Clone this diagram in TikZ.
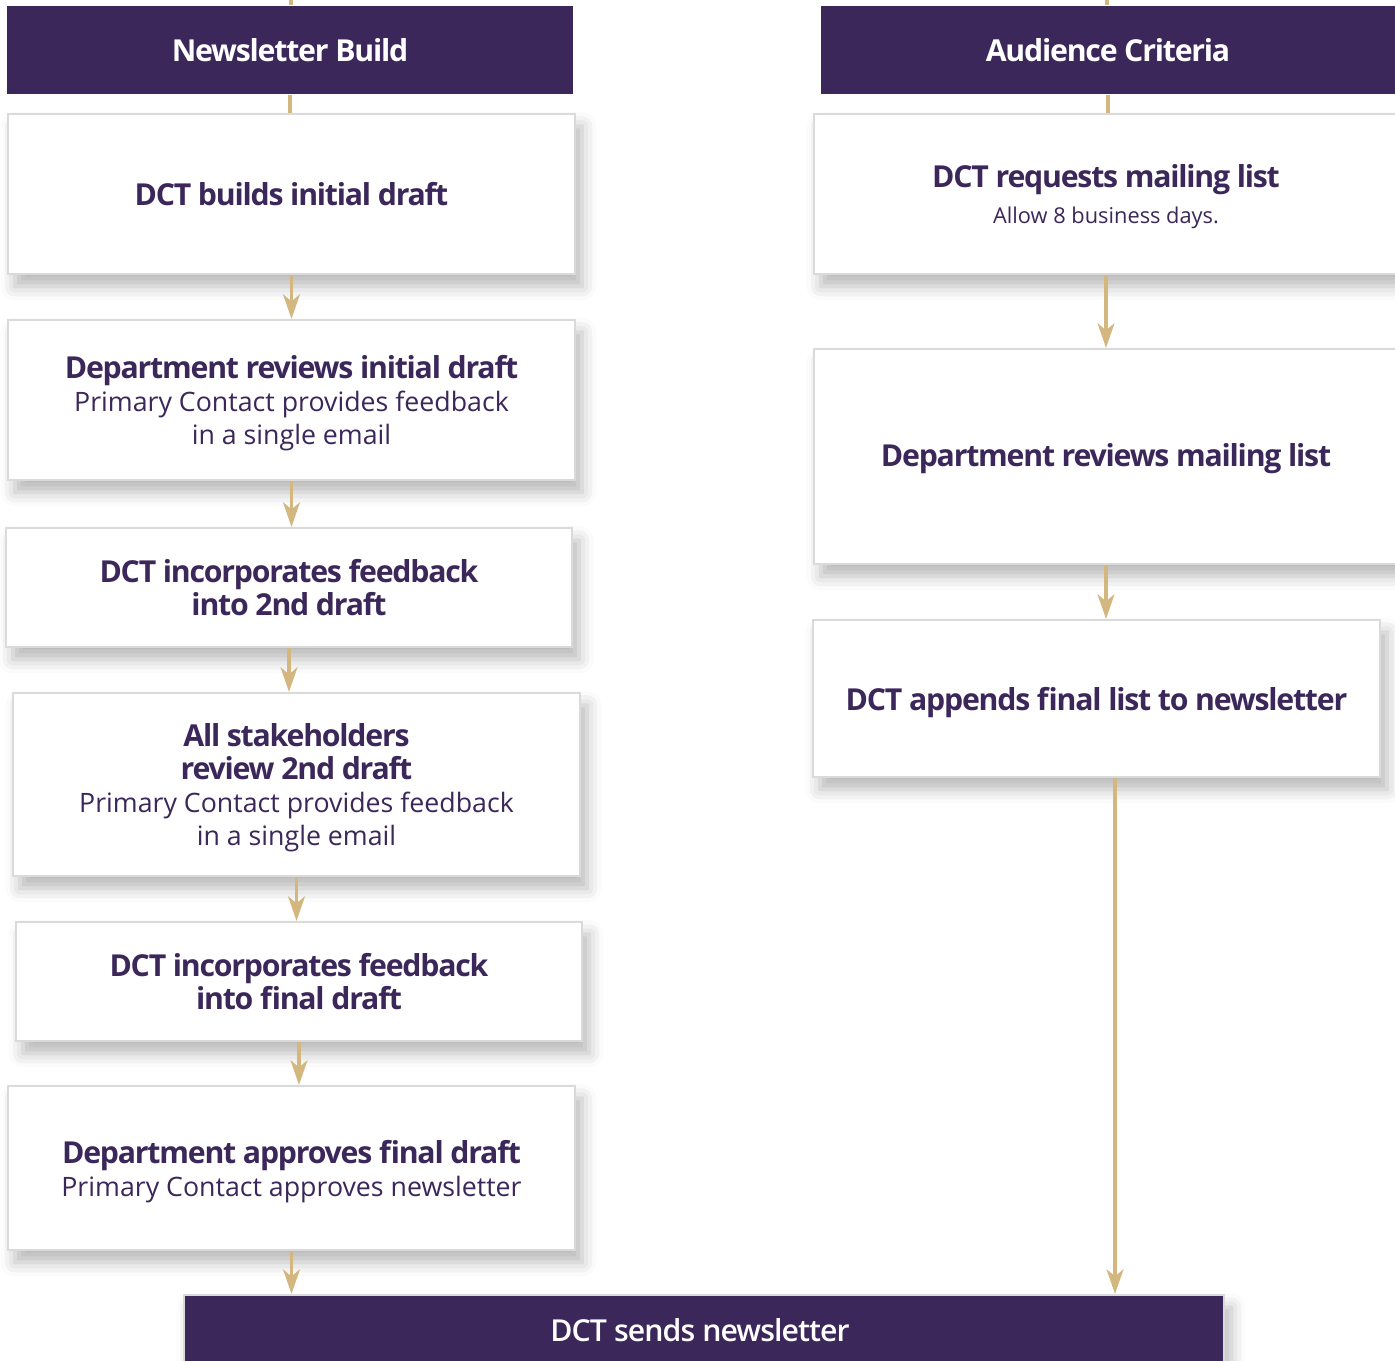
\documentclass[tikz,border=0pt]{standalone}
\usepackage{fontspec}
\setmainfont{Open Sans}[BoldFeatures={LetterSpace=-4}]
\IfFontExistsTF{Open Sans SemiBold}{\newfontfamily\semifont{Open Sans SemiBold}[LetterSpace=-3]}
  {\IfFontExistsTF{Open Sans Semibold}{\newfontfamily\semifont{Open Sans Semibold}[LetterSpace=-3]}
    {\newcommand\semifont{\bfseries}}}
\usetikzlibrary{arrows.meta,shadows.blur}

\definecolor{plum}{HTML}{3B2759}
\definecolor{gold}{HTML}{D3B77E}
\definecolor{boxgrey}{HTML}{DADADA}

\newcommand\bigline[1]{{\fontsize{8.6}{9.4}\selectfont\bfseries #1}}

\tikzset{
  soft shadow/.style={blur shadow={shadow xshift=2pt, shadow yshift=-3.5pt, shadow blur radius=4pt, shadow opacity=28}},
  stepbox/.style={draw=boxgrey, line width=0.6pt, fill=white, text=plum, align=center, inner sep=0pt,
    font=\fontsize{7.6}{9.4}\selectfont, soft shadow},
  headbox/.style={fill=plum, text=white, align=center, inner sep=0pt},
  link/.style={draw=gold, line width=0.9pt},
  flow/.style={link, -{Stealth[length=7pt, width=4.8pt, inset=2pt]}},
}

\begin{document}
\begin{tikzpicture}[x=0.01cm, y=-0.01cm]
    \useasboundingbox (0,0) rectangle (1395,1360);

    % left column: newsletter build
    \node[headbox, minimum width=5.66cm, minimum height=0.88cm, text depth=-1.7pt] (build) at (290,50) {\bigline{Newsletter Build}};
    \node[stepbox, minimum width=5.67cm, minimum height=1.60cm, text depth=-0.5pt] (initial) at (291.5,194) {\bigline{DCT builds initial draft}};
    \node[stepbox, minimum width=5.67cm, minimum height=1.60cm, text depth=-3.7pt] (review1) at (291.5,400)
        {\bigline{Department reviews initial draft}\\Primary Contact provides feedback\\in a single email};
    \node[stepbox, minimum width=5.66cm, minimum height=1.19cm, text depth=-1.3pt] (second) at (289,587.5)
        {\bigline{DCT incorporates feedback}\\\bigline{into 2nd draft}};
    \node[stepbox, minimum width=5.67cm, minimum height=1.83cm, text depth=-3.4pt] (review2) at (296.5,784.5)
        {\bigline{All stakeholders}\\\bigline{review 2nd draft}\\Primary Contact provides feedback\\in a single email};
    \node[stepbox, minimum width=5.66cm, minimum height=1.19cm, text depth=-1.3pt] (final) at (299,981.5)
        {\bigline{DCT incorporates feedback}\\\bigline{into final draft}};
    \node[stepbox, minimum width=5.67cm, minimum height=1.64cm, text depth=-3.4pt] (approve) at (291.5,1168)
        {\bigline{Department approves final draft}\\Primary Contact approves newsletter};

    % right column: audience criteria
    \node[headbox, minimum width=5.74cm, minimum height=0.88cm, text depth=-1.7pt] (criteria) at (1108,50) {\bigline{Audience Criteria}};
    \node[stepbox, minimum width=5.84cm, minimum height=1.60cm, text depth=-2.4pt] (request) at (1106,194)
        {\bigline{DCT requests mailing list}\\[0.9pt]{\fontsize{6.2}{8}\selectfont Allow 8 business days.}};
    \node[stepbox, minimum width=5.84cm, minimum height=2.15cm, text depth=1pt] (check) at (1106,456.5)
        {\bigline{Department reviews mailing list}};
    \node[stepbox, minimum width=5.67cm, minimum height=1.57cm, text depth=-0.7pt] (append) at (1096.5,698.5)
        {\bigline{DCT appends final list to newsletter}};

    % bottom bar
    \node[headbox, draw=boxgrey, line width=0.6pt, minimum width=10.40cm, minimum height=0.70cm, soft shadow]
        (send) at (704,1330) {{\fontsize{8.6}{9.4}\semifont DCT sends newsletter}\hspace*{0.08cm}};

    % connectors
    \coordinate (topL) at (291,0);
    \coordinate (topR) at (1107,0);
    \draw[link] (topL) -- (topL |- build.north);
    \draw[link] (topR) -- (topR |- criteria.north);
    \draw[link] (build.south) -- (build.south |- initial.north);
    \draw[link] (criteria.south) -- (criteria.south |- request.north);

    \draw[flow] (initial.south) -- (initial.south |- review1.north);
    \draw[flow] (review1.south) -- (review1.south |- second.north);
    \draw[flow] (second.south) -- (second.south |- review2.north);
    \draw[flow] (review2.south) -- (review2.south |- final.north);
    \draw[flow] (final.south) -- (final.south |- approve.north);
    \draw[flow] (approve.south) -- (approve.south |- send.north);

    \draw[flow] (request.south) -- (request.south |- check.north);
    \draw[flow] (check.south) -- (check.south |- append.north);
    \draw[flow] ([xshift=0.185cm]append.south) -- ([xshift=0.185cm]append.south |- send.north);

\end{tikzpicture}
\end{document}
